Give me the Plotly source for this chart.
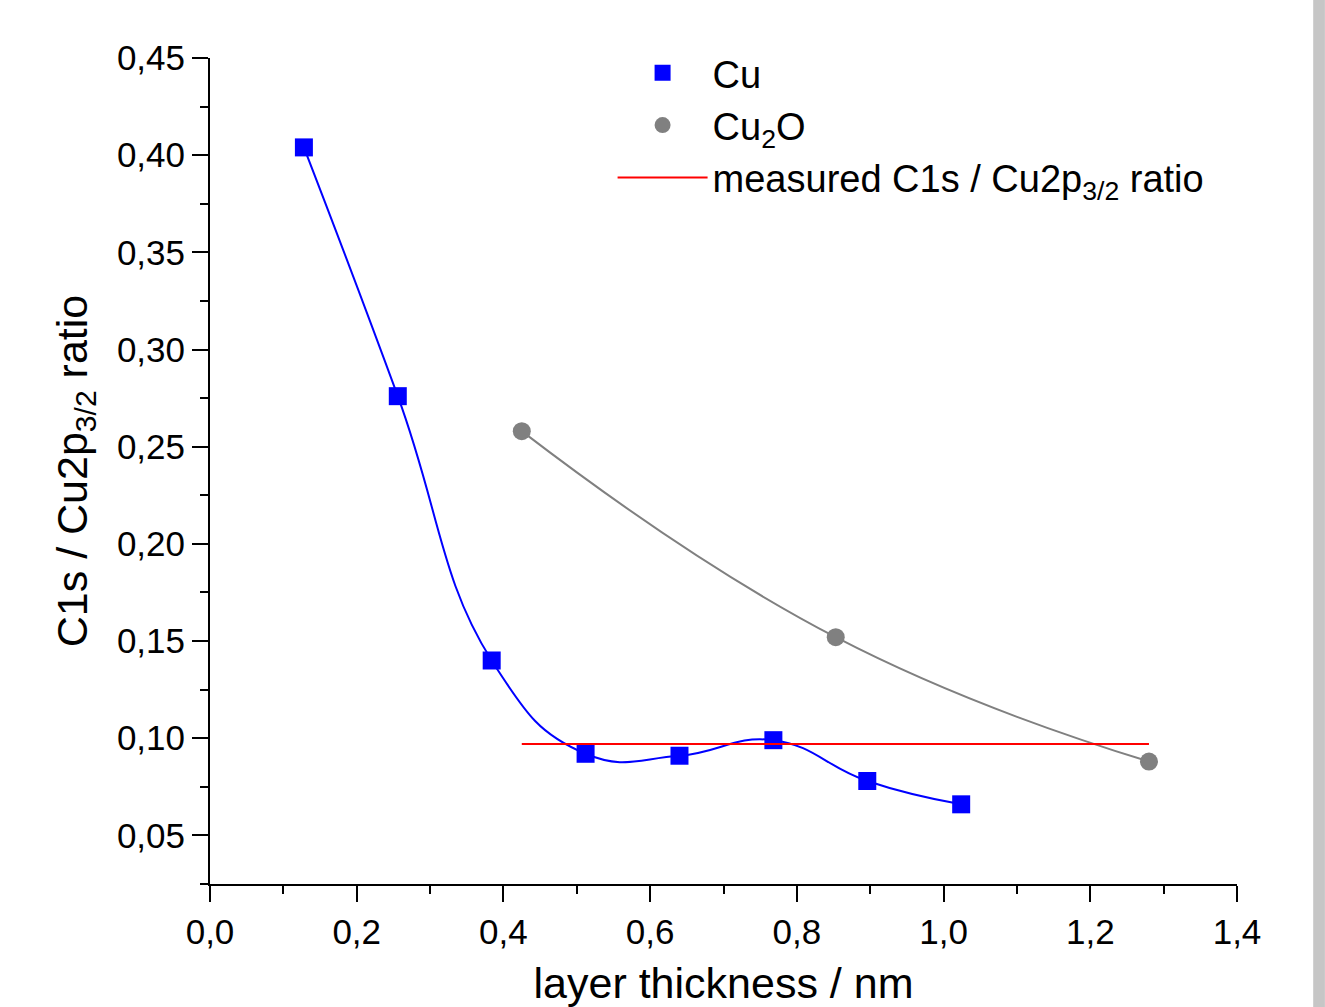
import plotly.graph_objects as go

# Data
cu_x = [0.128, 0.256, 0.384, 0.512, 0.640, 0.768, 0.896, 1.024]
cu_y = [0.404, 0.276, 0.140, 0.092, 0.091, 0.099, 0.078, 0.066]
cu2o_x = [0.425, 0.853, 1.280]
cu2o_y = [0.258, 0.152, 0.088]
meas_x = [0.425, 1.280]
meas_y = [0.097, 0.097]

FONT = "Liberation Sans, Arial, sans-serif"

fig = go.Figure()
fig.add_trace(go.Scatter(
    x=cu_x, y=cu_y, mode="lines", line=dict(color="#0000ff", width=2, shape="spline", smoothing=1.3),
    showlegend=False, hoverinfo="skip"))
fig.add_trace(go.Scatter(
    x=cu2o_x, y=cu2o_y, mode="lines", line=dict(color="#808080", width=2, shape="spline", smoothing=1.3),
    showlegend=False, hoverinfo="skip"))
fig.add_trace(go.Scatter(
    x=cu_x, y=cu_y, mode="markers", name="Cu",
    marker=dict(symbol="square", size=18, color="#0000ff")))
fig.add_trace(go.Scatter(
    x=cu2o_x, y=cu2o_y, mode="markers", name="Cu<sub>2</sub>O",
    marker=dict(symbol="circle", size=18, color="#808080")))
fig.add_trace(go.Scatter(
    x=meas_x, y=meas_y, mode="lines", name="measured C1s / Cu2p<sub>3/2</sub> ratio",
    line=dict(color="#ff0000", width=2)))

axis_common = dict(
    showline=True, linecolor="black", linewidth=2, mirror=False,
    ticks="outside", ticklen=16, tickwidth=2, tickcolor="black",
    showgrid=False, zeroline=False, automargin=False,
    tickfont=dict(family=FONT, size=35, color="black"),
)

fig.update_xaxes(
    range=[0, 1.4], dtick=0.2, tick0=0, tickformat=".1f",
    minor=dict(dtick=0.1, ticklen=8, tickwidth=2, tickcolor="black", ticks="outside"),
    title=dict(text="layer thickness / nm", font=dict(family=FONT, size=43, color="black"), standoff=20),
    **axis_common)
fig.update_yaxes(
    range=[0.025, 0.45], dtick=0.05, tick0=0, tickformat=".2f",
    minor=dict(dtick=0.025, ticklen=8, tickwidth=2, tickcolor="black", ticks="outside"),
    title=dict(text="C1s / Cu2p<sub>3/2</sub> ratio", font=dict(family=FONT, size=43, color="black"), standoff=16),
    **axis_common)

fig.update_layout(
    width=1325, height=1007,
    margin=dict(l=210, r=88, t=58, b=123),
    paper_bgcolor="white", plot_bgcolor="white",
    separators=", ",
    font=dict(family=FONT, color="black"),
    legend=dict(
        x=0.392, y=1.02, xanchor="left", yanchor="top",
        font=dict(family=FONT, size=38, color="black"),
        bgcolor="rgba(0,0,0,0)", itemwidth=90, tracegroupgap=0,
    ),
    shapes=[dict(type="rect", xref="paper", yref="paper", x0=1.0742, x1=1.0856, y0=-0.2, y1=1.1,
                 fillcolor="#c6c6c6", line=dict(width=0), layer="above")],
)

fig.write_html("out.html")
